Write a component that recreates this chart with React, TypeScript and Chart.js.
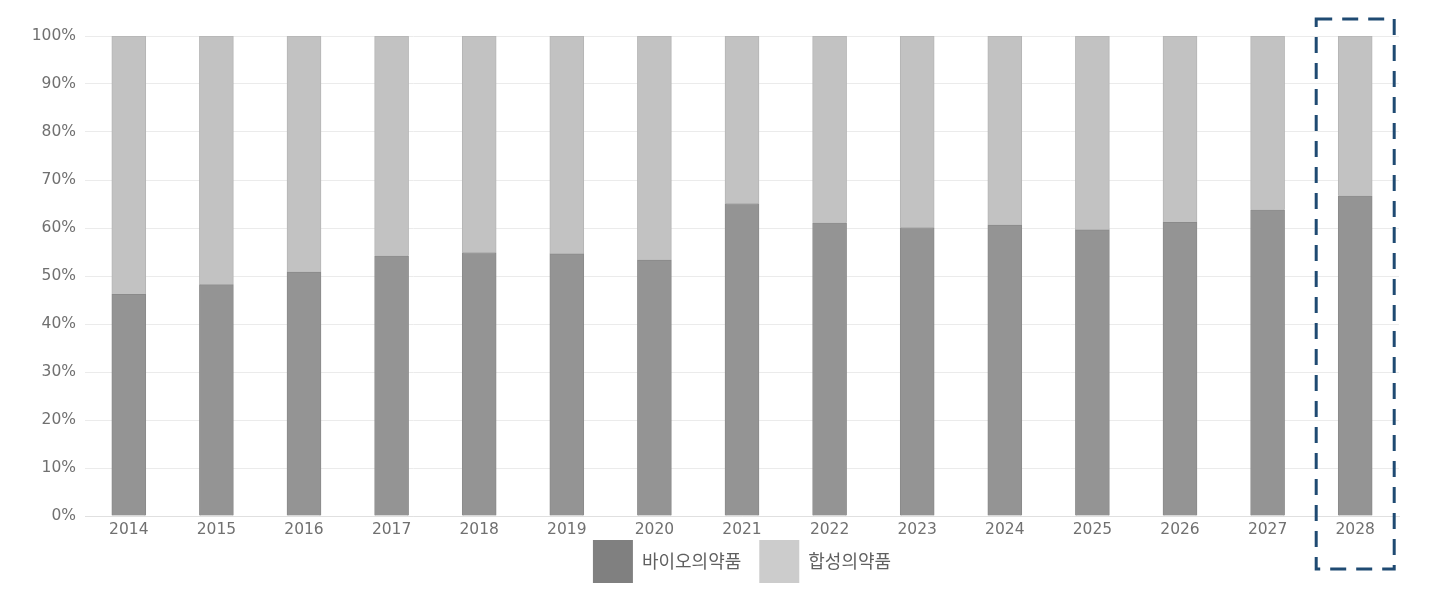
import { useEffect, useRef } from "react";
import { Chart, registerables } from "chart.js";

Chart.register(...registerables);

const years = ["2014", "2015", "2016", "2017", "2018", "2019", "2020", "2021", "2022", "2023", "2024", "2025", "2026", "2027", "2028"];
const bioShare = [46.2, 48.2, 50.8, 54.2, 54.9, 54.6, 53.3, 65.1, 61.1, 60.1, 60.6, 59.6, 61.2, 63.8, 66.7];
const chemShare = [53.8, 51.8, 49.2, 45.8, 45.1, 45.4, 46.7, 34.9, 38.9, 39.9, 39.4, 40.4, 38.8, 36.2, 33.3];
const seriesNames = ["바이오의약품", "합성의약품"];
const legendColors = ["#808080", "#cccccc"];
const highlightIndex = 14;

const TICK_FONT = "'DejaVu Sans', sans-serif";
const KR_FONT = "'Noto Sans CJK KR', sans-serif";

// dashed frame around the forecast year
const highlightBox = {
  id: "highlightBox",
  afterDraw(chart: Chart) {
    const { ctx, chartArea } = chart;
    const x = chart.scales.x.getPixelForValue(highlightIndex);
    ctx.save();
    ctx.strokeStyle = "#1f4a72";
    ctx.lineWidth = 3;
    ctx.setLineDash([16, 10]);
    ctx.strokeRect(x - 39, chartArea.top - 17, 78, chartArea.bottom - chartArea.top + 70);
    ctx.restore();
  },
};

export default function App() {
  const canvasRef = useRef<HTMLCanvasElement>(null);
  const chartRef = useRef<Chart | null>(null);

  useEffect(() => {
    if (!canvasRef.current) return;
    chartRef.current?.destroy();
    chartRef.current = new Chart(canvasRef.current, {
      type: "bar",
      data: {
        labels: years,
        datasets: [
          {
            label: seriesNames[0],
            data: bioShare,
            backgroundColor: "#949494",
            borderColor: "#8a8a8a",
            borderWidth: 1,
            barThickness: 34,
          },
          {
            label: seriesNames[1],
            data: chemShare,
            backgroundColor: "#c2c2c2",
            borderColor: "#b5b5b5",
            borderWidth: 1,
            barThickness: 34,
          },
        ],
      },
      options: {
        animation: false,
        responsive: true,
        maintainAspectRatio: false,
        layout: { padding: { top: 36, right: 35, bottom: -1, left: 0 } },
        scales: {
          x: {
            stacked: true,
            afterFit: (s: any) => {
              s.height = 24;
            },
            grid: { display: false, drawTicks: false },
            border: { color: "#e0e0e0" },
            ticks: { color: "#707070", font: { family: TICK_FONT, size: 15.5 }, padding: 5 },
          },
          y: {
            stacked: true,
            min: 0,
            max: 100,
            afterFit: (s: any) => {
              s.width = 85;
            },
            grid: { color: "#ebebeb", drawTicks: false },
            border: { display: false },
            ticks: {
              stepSize: 10,
              padding: 9,
              color: "#707070",
              font: { family: TICK_FONT, size: 15.5 },
              callback: (v: any) => v + "%",
            },
          },
        },
        plugins: {
          tooltip: { enabled: false },
          legend: {
            position: "bottom",
            fullSize: false,
            labels: {
              boxWidth: 40,
              boxHeight: 43,
              padding: 0,
              color: "#606060",
              font: { family: KR_FONT, size: 18 },
              // ideographic space after the first name gives the gap between items
              generateLabels: () =>
                seriesNames.map((name, i) => ({
                  text: i === 0 ? name + "\u3000" : name,
                  fillStyle: legendColors[i],
                  strokeStyle: legendColors[i],
                  lineWidth: 0,
                  fontColor: "#606060",
                  datasetIndex: i,
                  hidden: false,
                })),
            },
          },
        },
      },
      plugins: [highlightBox],
    });
    return () => chartRef.current?.destroy();
  }, []);

  return (
    <div style={{ position: "absolute", left: 0, top: 0, width: 1434, height: 592, background: "#fff" }}>
      <canvas ref={canvasRef} />
    </div>
  );
}
